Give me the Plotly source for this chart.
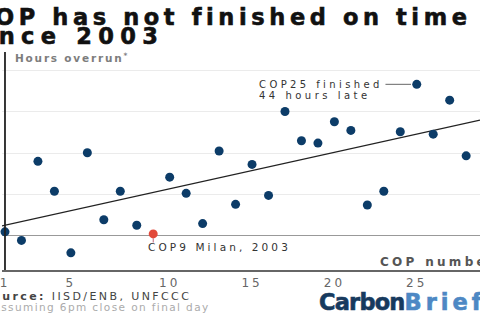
import numpy as np
import plotly.graph_objects as go

# ---------------- data ----------------
cop_labels = ["1", "2", "3", "4", "5", "6", "6bis", "7", "8", "9", "10", "11", "12", "13",
              "14", "15", "16", "17", "18", "19", "20", "21", "22", "23", "24", "25",
              "26", "27", "28", "29"]
hours_overrun = [1.1, -1.4, 21.6, 12.9, -5.0, 24.1, 4.6, 12.9, 3.0, 0.5, 17.0, 12.3, 3.5,
                 24.6, 9.1, 20.7, 11.7, 36.1, 27.6, 26.9, 33.1, 30.6, 8.9, 12.9, 30.2,
                 44.0, 29.5, 39.4, 23.2, 35.6]
tick_labels = ["1", "5", "10", "15", "20", "25"]
grid_hours = [0, 12, 24, 36, 48]
highlight_cop = "9"
note_cop = "25"

# ---------------- layout constants ----------------
W, H = 480, 320
ML, MR, MT, MB = 0, 0, 52, 50
PW, PH = W - ML - MR, H - MT - MB
X_RANGE = [-0.1814, 28.84]
Y_RANGE = [-10.0, 53.4]

NAVY = "#0c3c68"
RED = "#e2493a"
FONT = "DejaVu Sans"


def px(xpix):
    return (xpix - ML) / PW


def py(ypix):
    return (H - MB - ypix) / PH


def sp(text, ls, extra=""):
    return f'<span style="letter-spacing:{ls}px{extra}">{text}</span>'


xpos = np.arange(len(cop_labels))
yvals = np.array(hours_overrun)
colors = [RED if c == highlight_cop else NAVY for c in cop_labels]

# linear trend fitted to the data
slope, intercept = np.polyfit(xpos, yvals, 1)
trend_x = np.array(X_RANGE)
trend_y = slope * trend_x + intercept

fig = go.Figure()
fig.add_trace(go.Scatter(x=trend_x, y=trend_y, mode="lines",
                         line=dict(color="#222222", width=1.2),
                         hoverinfo="skip", showlegend=False))
fig.add_trace(go.Scatter(x=xpos, y=yvals, mode="markers",
                         marker=dict(size=9, color=colors, line=dict(width=0)),
                         text=[f"COP{c}" for c in cop_labels],
                         cliponaxis=False, showlegend=False))

hi = cop_labels.index(highlight_cop)
ni = cop_labels.index(note_cop)

shapes = [
    # left vertical axis line at COP1
    dict(type="line", xref="x", yref="paper", x0=0, x1=0, y0=0, y1=1,
         line=dict(color="#222222", width=1.8)),
    # connector from COP25 label
    dict(type="line", xref="x", yref="y", x0=ni - 1.9, x1=ni - 0.35,
         y0=hours_overrun[ni], y1=hours_overrun[ni],
         line=dict(color="#666666", width=1)),
    # small tick under COP9
    dict(type="line", xref="x", yref="y", x0=hi, x1=hi,
         y0=hours_overrun[hi] - 1.3, y1=-2.0,
         line=dict(color="#c0607a", width=1)),
]

ann = []


def add_text(text, xpix, ypix, size, color, xanchor="left", bold=False, family=FONT):
    ann.append(dict(text=text, x=px(xpix), y=py(ypix), xref="paper", yref="paper",
                    xanchor=xanchor, yanchor="middle", showarrow=False,
                    borderpad=0, borderwidth=0,
                    font=dict(family=family, size=size, color=color,
                              weight="bold" if bold else "normal")))


HEAVY = ";stroke:#111111;stroke-width:0.6px"
# title (cropped on the left as in the reference)
add_text(sp("COP has not finished on time", 4.6, HEAVY), 472, 16.5, 22.5, "#111111", "right", True)
add_text(sp("since 2003", 6.3, HEAVY), 163, 36.5, 22.5, "#111111", "right", True)
# axis titles
add_text(sp("Hours overrun<sup>*</sup>", 1.8), 13, 58, 10.5, "#7d7d7d", "left", True)
add_text(sp("COP number", 3.3), 380, 261.7, 12, "#555555", "left", True)
# annotations
add_text(sp("COP25 finished", 3.4), 258, 84, 10, "#333333", "left")
add_text(sp("44 hours late", 3.5), 258, 95.5, 10, "#333333", "left")
add_text(sp("COP9 Milan, 2003", 3.1), 147, 246.5, 10.5, "#333333", "left")
# footer
add_text(sp("<b>Source:</b> IISD/ENB, UNFCCC", 2.4), 190, 296.5, 11, "#444444", "right")
add_text(sp("*Assuming 6pm close on final day", 1.4), 208.5, 306.5, 10.5, "#ababab", "right")
add_text(sp('Carbon<span style="fill:#4d88c4;stroke:#4d88c4;letter-spacing:4px">Brief</span>',
            -0.8, ";stroke:#173a5e;stroke-width:0.6px"),
         318, 302, 22.5, "#173a5e", "left", True)

fig.update_layout(
    width=W, height=H,
    margin=dict(l=ML, r=MR, t=MT, b=MB, pad=0),
    paper_bgcolor="white", plot_bgcolor="white",
    showlegend=False,
    shapes=shapes, annotations=ann,
    xaxis=dict(range=X_RANGE, showgrid=False, zeroline=False,
               showline=True, linecolor="#666666", linewidth=1.5,
               tickmode="array",
               tickvals=[cop_labels.index(t) for t in tick_labels],
               ticktext=[sp(t, 3) for t in tick_labels],
               ticks="", tickfont=dict(family=FONT, size=12, color="#666666"),
               ticklabelstandoff=1, ticklabeloverflow="allow"),
    yaxis=dict(range=Y_RANGE, tickmode="array", tickvals=grid_hours,
               showticklabels=False, ticks="",
               showgrid=True, gridcolor="#ebebeb", gridwidth=1,
               zeroline=True, zerolinecolor="#999999", zerolinewidth=1.3,
               showline=False),
)

fig.write_html("out.html")
